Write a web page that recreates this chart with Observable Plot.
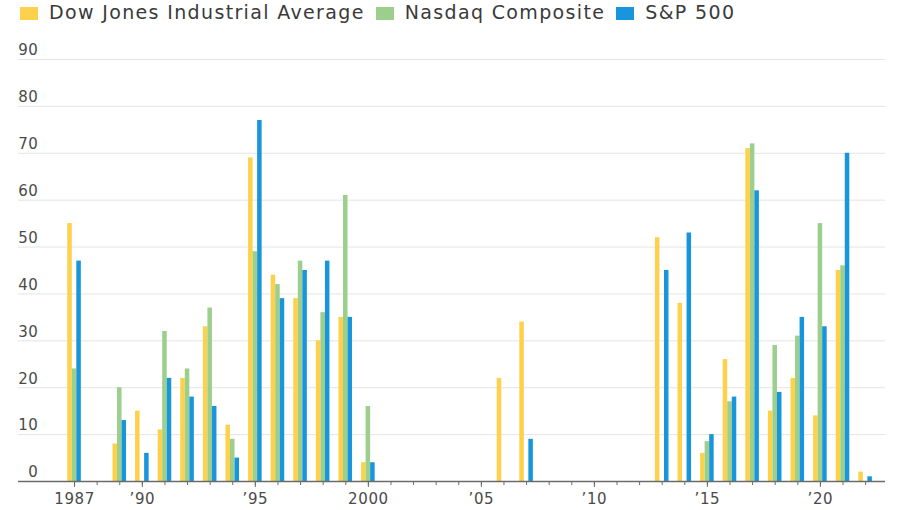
<!DOCTYPE html>
<html><head><meta charset="utf-8">
<script src="https://cdn.jsdelivr.net/npm/d3@7"></script>
<script src="https://cdn.jsdelivr.net/npm/@observablehq/plot@0.6"></script>
<style>
body{margin:0;background:#fff;font-family:"DejaVu Sans",sans-serif;}
#legend{height:24px;display:flex;align-items:center;padding-left:20px;font-size:19px;letter-spacing:1.35px;color:#3a3a3a;white-space:nowrap;margin-bottom:2px}
.item{display:flex;align-items:center;margin-right:11px;flex:none}
.sw{flex:none;width:18px;height:13px;margin-right:11px;margin-top:2px}
#chart svg{display:block}
</style></head><body>
<div id="legend"></div>
<div id="chart"></div>
<script>
const years = [1987,1988,1989,1990,1991,1992,1993,1994,1995,1996,1997,1998,1999,2000,2001,2002,2003,2004,2005,2006,2007,2008,2009,2010,2011,2012,2013,2014,2015,2016,2017,2018,2019,2020,2021,2022];
const dow    = [55,0,8,15,11,22,33,12,69,44,39,30,35,4,0,0,0,0,0,22,34,0,0,0,0,0,52,38,6,26,71,15,22,14,45,2];
const nasdaq = [24,0,20,0,32,24,37,9,49,42,47,36,61,16,0,0,0,0,0,0,0,0,0,0,0,0,0,0,8.5,17,72,29,31,55,46,0];
const sp500  = [47,0,13,6,22,18,16,5,77,39,45,47,35,4,0,0,0,0,0,0,9,0,0,0,0,0,45,53,10,18,62,19,35,33,70,1];
const seriesNames = ["Dow Jones Industrial Average","Nasdaq Composite","S&P 500"];
const seriesColors = ["#fdd14b","#9bcf8b","#1996db"];
const labelYears = [1987,1990,1995,2000,2005,2010,2015,2020];
const yTicks = [0,10,20,30,40,50,60,70,80,90];

const seriesValues = [dow, nasdaq, sp500];
const barW = 0.2;
const data = [];
seriesValues.forEach((vals, s) => {
  vals.forEach((v, i) => {
    if (v > 0) {
      const c = years[i] + (s - 1) * barW;
      data.push({series: seriesNames[s], x1: c - barW / 2, x2: c + barW / 2, value: v});
    }
  });
});

const legend = document.getElementById("legend");
seriesNames.forEach((n, i) => {
  const it = document.createElement("div");
  it.className = "item";
  const sw = document.createElement("div");
  sw.className = "sw";
  sw.style.background = seriesColors[i];
  const t = document.createElement("span");
  t.textContent = n;
  it.appendChild(sw); it.appendChild(t);
  legend.appendChild(it);
});

const fmt = d => (d === 1987 || d === 2000) ? String(d) : "\u2019" + String(d).slice(2);

const chart = Plot.plot({
  width: 900,
  height: 484,
  marginLeft: 18,
  marginRight: 15,
  marginTop: 33,
  marginBottom: 29,
  style: {fontFamily: "'DejaVu Sans', sans-serif", background: "#fff", overflow: "visible", letterSpacing: "0.6px"},
  x: {type: "linear", domain: [1984.52, 2022.88], axis: null},
  y: {domain: [0, 90], axis: null},
  color: {domain: seriesNames, range: seriesColors},
  marks: [
    Plot.gridY(yTicks.filter(d => d > 0), {stroke: "#e4e4e4", strokeOpacity: 1, strokeWidth: 1}),
    Plot.rectY(data, {x1: "x1", x2: "x2", y: "value", fill: "series"}),
    Plot.ruleY([0], {stroke: "#6b6b6b", strokeWidth: 1.5}),
    Plot.axisX(years, {tickSize: 4, tickFormat: () => "", stroke: "#6b6b6b", label: null}),
    Plot.axisX(labelYears, {tickSize: 6, tickPadding: 6, tickFormat: fmt, stroke: "#6b6b6b", fill: "#4a4a4a", fontSize: 15, label: null}),
    Plot.axisY(yTicks, {tickSize: 0, tickPadding: 0, dx: 20, dy: -9, fill: "#4a4a4a", fontSize: 15, label: null})
  ]
});
document.getElementById("chart").appendChild(chart);
</script>
</body></html>
